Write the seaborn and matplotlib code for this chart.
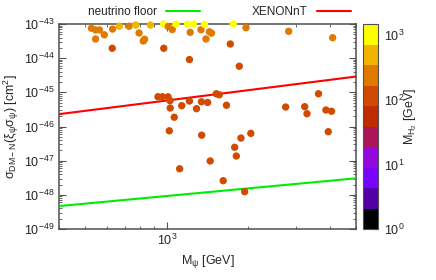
"""Direct-detection cross section vs DM mass, coloured by M_H2."""
import numpy as np
import pandas as pd
import matplotlib
matplotlib.use("Agg")
import matplotlib.pyplot as plt
import seaborn as sns
from matplotlib.colors import ListedColormap, LogNorm
from matplotlib.cm import ScalarMappable
from matplotlib.ticker import LogLocator, FuncFormatter, NullFormatter

# ---------------------------------------------------------------------------
# Data
# ---------------------------------------------------------------------------
m_psi = [527, 546, 564, 546, 588, 629, 631, 668, 726, 768,
         790, 819, 828, 870, 974, 975, 1012, 1048, 1082, 1193,
         1221, 1213, 1255, 1338, 1378, 1396, 1438, 1463, 1761, 1717,
         1962, 1853, 2820, 4100,
         928, 964, 1011, 1028, 1030, 1066, 1022, 1136, 1213, 1288,
         1343, 1416, 1346, 1524, 1563, 1662, 1116, 1447, 1616, 1782,
         1807, 1880, 2044, 1940, 2749, 3232, 3296, 3634, 3872, 4059,
         3950]
sigma = [7.5e-44, 6.7e-44, 6.7e-44, 3.64e-44, 4.83e-44, 1.95e-44, 7.1e-44, 8.6e-44, 8.6e-44, 9.3e-44,
         5.45e-44, 3.18e-44, 3.56e-44, 9.3e-44, 9.9e-44, 1.95e-44, 8.45e-44, 6.9e-44, 1.0e-43, 9.8e-44,
         5.7e-44, 9.1e-45, 1.0e-43, 6.8e-44, 9.7e-44, 3.64e-44, 5.9e-44, 5.4e-44, 1.0e-43, 2.6e-44,
         7.8e-44, 5.8e-45, 6.1e-44, 3.97e-44,
         7.45e-46, 7.45e-46, 7.4e-46, 5.7e-46, 3.48e-46, 1.87e-46, 7.5e-47, 4.07e-46, 5.58e-46, 3.32e-46,
         5.3e-46, 5.05e-46, 5.57e-47, 9.1e-46, 8.5e-46, 4.18e-46, 5.8e-48, 9.8e-48, 2.6e-48, 2.47e-47,
         1.37e-47, 4.6e-47, 6.3e-47, 1.24e-48, 3.72e-46, 3.8e-46, 2.37e-46, 9.1e-46, 3.04e-46, 2.8e-46,
         7.05e-47]
m_h2 = [250, 250, 250, 250, 250, 120, 250, 500, 250, 500,
        250, 250, 250, 500, 1000, 120, 250, 250, 1000, 1000,
        250, 120, 1000, 250, 1000, 250, 250, 250, 1000, 120,
        250, 120, 250, 250,
        120, 120, 120, 120, 120, 120, 120, 120, 120, 120,
        120, 120, 120, 120, 120, 120, 120, 120, 120, 120,
        120, 120, 120, 120, 120, 120, 120, 120, 120, 120,
        120]

# limit curves (end points)
xenon_m = [400, 5000]
xenon_sigma = [2.3e-46, 2.9e-45]
nu_m = [400, 5000]
nu_sigma = [4.7e-49, 3.05e-48]

# gnuplot default palette (rgbformulae 7,5,15) with 10 discrete colours
band_colors = ["#000000", "#5500a4", "#7803fb", "#9309dd", "#aa1657",
               "#be2c00", "#d04b00", "#e17800", "#f0b300", "#ffff00"]

# ---------------------------------------------------------------------------
# Figure
# ---------------------------------------------------------------------------
sns.set_style("ticks")
plt.rcParams["font.family"] = ["Liberation Sans", "DejaVu Sans"]
plt.rcParams["mathtext.fontset"] = "custom"
plt.rcParams["mathtext.rm"] = "Liberation Sans"
plt.rcParams["mathtext.it"] = "Liberation Sans"
plt.rcParams["font.size"] = 8.5

frame = "#505050"
cmap = ListedColormap(band_colors)
norm = LogNorm(vmin=1, vmax=1500)

fig = plt.figure(figsize=(4.36, 2.80), dpi=100)
ax = fig.add_axes([0.1353, 0.182, 0.6812, 0.7323])
cax = fig.add_axes([0.8326, 0.182, 0.0344, 0.7323])

df = pd.DataFrame({"m_psi": m_psi, "sigma": sigma, "m_h2": m_h2})

lines = pd.DataFrame({
    "m": nu_m + xenon_m,
    "s": nu_sigma + xenon_sigma,
    "curve": ["neutrino floor"] * 2 + ["XENONnT"] * 2,
})
sns.lineplot(data=lines, x="m", y="s", hue="curve",
             palette={"neutrino floor": "#00ee00", "XENONnT": "#ff0000"},
             lw=1.5, ax=ax, zorder=3)

sns.scatterplot(data=df, x="m_psi", y="sigma", hue="m_h2", hue_norm=norm,
                palette=cmap, s=28, linewidth=0, legend=False,
                ax=ax, zorder=4, clip_on=False)

ax.set_xscale("log")
ax.set_yscale("log")
ax.set_xlim(400, 5000)
ax.set_ylim(1e-49, 1e-43)

def pow10(v, pos):
    e = int(round(np.log10(v)))
    return r"$\mathregular{10^{%d}}$" % e

ax.xaxis.set_major_locator(LogLocator(base=10, numticks=10))
ax.xaxis.set_minor_locator(LogLocator(base=10, subs=np.arange(2, 10), numticks=20))
ax.xaxis.set_major_formatter(FuncFormatter(pow10))
ax.xaxis.set_minor_formatter(NullFormatter())
ax.yaxis.set_major_locator(LogLocator(base=10, numticks=10))
ax.yaxis.set_minor_locator(LogLocator(base=10, subs=np.arange(2, 10), numticks=20))
ax.yaxis.set_major_formatter(FuncFormatter(pow10))
ax.yaxis.set_minor_formatter(NullFormatter())

ax.tick_params(which="both", direction="in", top=True, right=True,
               color=frame, labelsize=9, pad=3)
ax.tick_params(which="major", length=5, width=0.8)
ax.tick_params(which="minor", length=2.5, width=0.6)
for sp in ax.spines.values():
    sp.set_color(frame)
    sp.set_linewidth(1.1)

ax.set_xlabel(r"$\mathregular{M_{ψ}}$ [GeV]", fontsize=9, labelpad=3)
ax.set_ylabel(r"$\mathregular{σ_{DM-N}(ξ_{ψ}σ_{ψ})\ [cm^{2}]}$", fontsize=9, labelpad=2)

# legend above the plot, gnuplot style (text then sample)
leg = ax.legend(loc="lower center", bbox_to_anchor=(0.54, 1.0), ncol=2,
                markerfirst=False, frameon=False, fontsize=8.5,
                handlelength=2.9, handletextpad=0.75, columnspacing=4.4,
                borderaxespad=0.1)

# colour bar
sm = ScalarMappable(norm=norm, cmap=cmap)
cb = fig.colorbar(sm, cax=cax)
cb.outline.set_edgecolor(frame)
cb.outline.set_linewidth(0.8)
cb.set_ticks([1, 10, 100, 1000])
cb.ax.yaxis.set_major_formatter(FuncFormatter(pow10))
cb.ax.yaxis.set_minor_locator(LogLocator(base=10, subs=np.arange(2, 10), numticks=20))
cb.ax.yaxis.set_minor_formatter(NullFormatter())
cb.ax.tick_params(which="both", direction="in", color="#303030", labelsize=9, pad=4)
cb.ax.tick_params(which="major", length=5)
cb.ax.tick_params(which="minor", length=2.5)
cb.ax.text(3.2, 0.55, r"$\mathregular{M_{H_2}}$ [GeV]", rotation=90,
           transform=cb.ax.transAxes, ha="center", va="center", fontsize=9)

fig.savefig("out.png", dpi=100)
